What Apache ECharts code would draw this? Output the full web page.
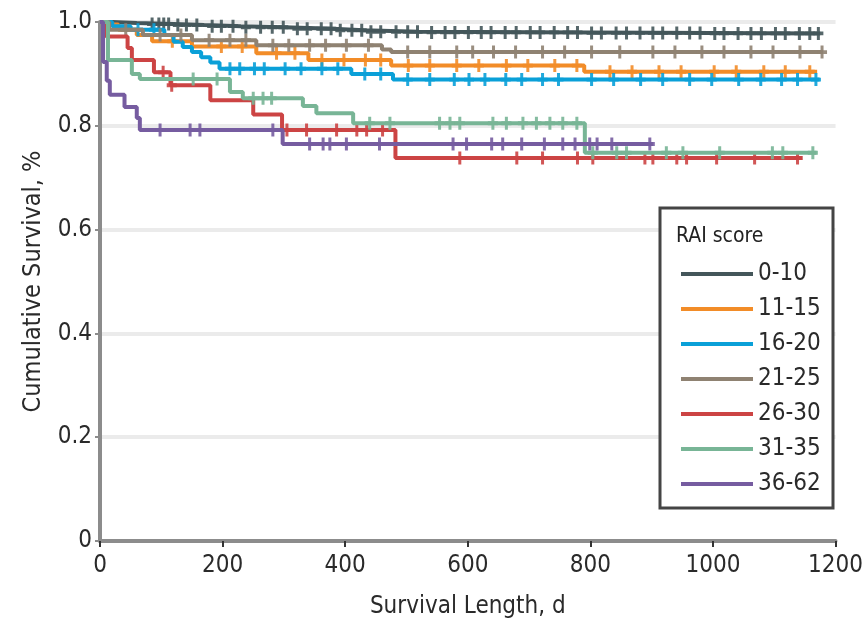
<!DOCTYPE html>
<html>
<head>
<meta charset="utf-8">
<script src="https://cdn.jsdelivr.net/npm/echarts@6/dist/echarts.min.js"></script>
<style>html,body{margin:0;padding:0;background:#fff}#c{width:866px;height:630px}</style>
</head>
<body>
<div id="c"></div>
<script>
var groupNames = ['0-10', '11-15', '16-20', '21-25', '26-30', '31-35', '36-62'];
var groupColors = ['#44565a', '#f28c28', '#0aa0d8', '#8f8272', '#cc4444', '#78b596', '#765ca0'];
var xTicks = [0, 200, 400, 600, 800, 1000, 1200];
var yTicks = [0, 0.2, 0.4, 0.6, 0.8, 1.0];

// event times, survival after event, last follow-up, censor times
var t0 = [0, 20, 60, 120, 170, 230, 300, 380, 430, 520, 800, 1000];
var s0 = [1.0, 0.998, 0.996, 0.994, 0.992, 0.99, 0.987, 0.984, 0.981, 0.98, 0.979, 0.978];
var e0 = 1175;
var c0 = [85, 96, 104, 112, 127, 141, 158, 183, 198, 217, 238, 262, 281, 299, 322, 338, 361, 377, 392, 411, 427, 442, 458, 483, 502, 518, 541, 563, 579, 601, 622, 638, 661, 679, 702, 718, 741, 763, 779, 802, 818, 842, 859, 881, 902, 918, 941, 962, 979, 1003, 1018, 1041, 1062, 1079, 1102, 1118, 1141, 1158, 1172];

var t1 = [0, 10, 30, 60, 85, 150, 255, 340, 475, 790];
var s1 = [1.0, 0.995, 0.985, 0.975, 0.963, 0.953, 0.94, 0.927, 0.916, 0.904];
var e1 = 1170;
var c1 = [118, 198, 232, 288, 318, 362, 398, 433, 458, 503, 538, 582, 618, 663, 698, 742, 778, 832, 868, 912, 948, 1002, 1038, 1083, 1118, 1158];

var t2 = [0, 20, 50, 105, 120, 135, 150, 165, 180, 195, 410, 478];
var s2 = [1.0, 0.992, 0.985, 0.975, 0.962, 0.952, 0.942, 0.932, 0.922, 0.91, 0.9, 0.889];
var e2 = 1174;
var c2 = [62, 88, 212, 228, 252, 268, 302, 328, 362, 388, 432, 458, 502, 538, 578, 602, 628, 662, 688, 722, 748, 802, 838, 882, 918, 962, 998, 1042, 1078, 1112, 1138, 1168];

var t3 = [0, 15, 70, 150, 255, 460, 475];
var s3 = [1.0, 0.985, 0.975, 0.965, 0.955, 0.947, 0.942];
var e3 = 1180;
var c3 = [42, 98, 132, 178, 212, 238, 282, 308, 342, 368, 402, 438, 502, 538, 582, 608, 642, 678, 722, 758, 802, 848, 902, 938, 982, 1018, 1062, 1098, 1142, 1178];

var t4 = [0, 10, 45, 52, 88, 115, 180, 250, 297, 482];
var s4 = [1.0, 0.972, 0.95, 0.927, 0.903, 0.878, 0.849, 0.822, 0.792, 0.738];
var e4 = 1146;
var c4 = [103, 117, 305, 337, 386, 419, 435, 461, 587, 680, 722, 779, 804, 889, 902, 941, 957, 1006, 1068, 1138];

var t5 = [0, 13, 52, 65, 212, 233, 331, 353, 413, 791];
var s5 = [1.0, 0.927, 0.90, 0.89, 0.865, 0.853, 0.838, 0.824, 0.805, 0.748];
var e5 = 1169;
var c5 = [152, 191, 250, 266, 280, 440, 473, 554, 571, 587, 641, 663, 690, 712, 734, 755, 778, 804, 843, 859, 924, 951, 1011, 1097, 1114, 1163];

var t6 = [0, 5, 11, 16, 40, 60, 65, 298];
var s6 = [1.0, 0.923, 0.887, 0.86, 0.836, 0.815, 0.792, 0.765];
var e6 = 902;
var c6 = [98, 147, 163, 282, 342, 364, 375, 402, 456, 576, 598, 639, 657, 688, 725, 755, 775, 799, 811, 835, 897];

var groups = [
  [t0, s0, e0, c0], [t1, s1, e1, c1], [t2, s2, e2, c2], [t3, s3, e3, c3],
  [t4, s4, e4, c4], [t5, s5, e5, c5], [t6, s6, e6, c6]
];

function survAt(t, s, x) {
  var v = s[0];
  for (var i = 0; i < t.length; i++) { if (t[i] <= x) v = s[i]; }
  return v;
}

var FONT = '"DejaVu Sans Condensed", "Liberation Sans Narrow", sans-serif';
var plus = 'path://M3.5,0H6.5V3.5H10V6.5H6.5V10H3.5V6.5H0V3.5H3.5Z';

var series = [];
groups.forEach(function (g, k) {
  var t = g[0], s = g[1], end = g[2], cens = g[3];
  var pts = t.map(function (x, i) { return [x, s[i]]; });
  pts.push([end, s[s.length - 1]]);
  series.push({
    name: groupNames[k], type: 'line', step: 'end', data: pts,
    showSymbol: false, symbol: 'none', z: 3 + k,
    lineStyle: { color: groupColors[k], width: 4 },
    itemStyle: { color: groupColors[k] },
    animation: false
  });
  series.push({
    name: groupNames[k] + '_c', type: 'scatter', symbol: plus, symbolSize: [10, 13],
    data: cens.map(function (x) { return [x, survAt(t, s, x)]; }),
    itemStyle: { color: groupColors[k], opacity: 0.9 }, z: 3 + k,
    silent: true, animation: false
  });
});

var chart = echarts.init(document.getElementById('c'), null, { renderer: 'canvas' });
chart.setOption({
  backgroundColor: '#ffffff',
  animation: false,
  grid: { left: 100, right: 28, top: 22, bottom: 89, containLabel: false },
  xAxis: {
    type: 'value', min: xTicks[0], max: xTicks[xTicks.length - 1], interval: 200,
    name: 'Survival Length, d', nameLocation: 'middle', nameGap: 54,
    nameTextStyle: { fontFamily: FONT, fontSize: 24, color: '#2a2a2a' },
    axisLine: { show: true, onZero: false, lineStyle: { color: '#8c8c8c', width: 4 } },
    axisTick: { show: true, length: 6, lineStyle: { color: '#333', width: 2 } },
    axisLabel: { fontFamily: FONT, fontSize: 24, color: '#2a2a2a', margin: 13,
      formatter: function (v) { return String(v); } },
    splitLine: { show: false }
  },
  yAxis: {
    type: 'value', min: 0, max: 1, interval: 0.2,
    name: 'Cumulative Survival, %', nameLocation: 'middle', nameGap: 54,
    nameTextStyle: { fontFamily: FONT, fontSize: 25, color: '#2a2a2a' },
    axisLine: { show: true, lineStyle: { color: '#8c8c8c', width: 4 } },
    axisTick: { show: true, length: 5, lineStyle: { color: '#8c8c8c', width: 2 } },
    axisLabel: {
      fontFamily: FONT, fontSize: 24, color: '#2a2a2a', margin: 8,
      formatter: function (v) { return v === 0 ? '0' : v.toFixed(1); }
    },
    splitLine: { show: true, lineStyle: { color: '#ebebeb', width: 4 } }
  },
  legend: {
    data: groupNames.map(function (n) { return { name: n, icon: 'rect' }; }),
    orient: 'vertical', left: 676, top: 257, itemWidth: 72, itemHeight: 4, itemGap: 11,
    z: 20,
    textStyle: { fontFamily: FONT, fontSize: 24, color: '#2a2a2a', lineHeight: 24, padding: [0, 0, 0, 0] },
    selectedMode: false
  },
  graphic: [
    { type: 'rect', z: 10, shape: { x: 660, y: 208, width: 173, height: 300 },
      style: { fill: '#ffffff', stroke: '#444', lineWidth: 3 } },
    { type: 'text', z: 11, left: 676, top: 226,
      style: { text: 'RAI score', font: '21px ' + FONT, fill: '#222' } }
  ],
  series: series
});
</script>
</body>
</html>
